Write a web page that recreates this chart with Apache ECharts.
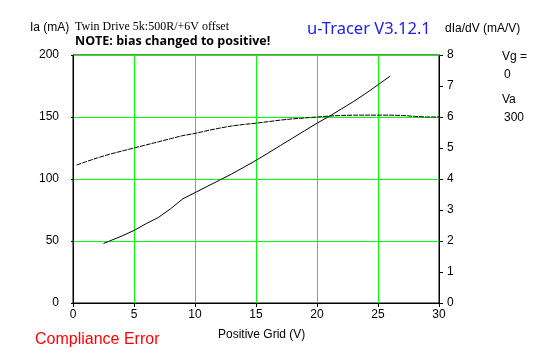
<!DOCTYPE html>
<html><head><meta charset="utf-8">
<script src="https://cdn.jsdelivr.net/npm/echarts@6/dist/echarts.min.js"></script>
<style>html,body{margin:0;padding:0;background:#fff}#c{width:547px;height:357px}</style>
</head><body><div id="c"></div>
<script>
const xTicks = [0,5,10,15,20,25,30];
const iaGrid = [2.5,3,4,5,6,7,8,9,10,11,12,13,14,15,16,17,18,19,20,21,22,23,24,25,26];
const iaVals = [48,50,54,58.5,64,69,76,84,89,94,99,104,109.5,115,121,127,133,139,145,150.5,156.5,162.5,169,176,183];
const gmGrid = [0.3,1,2,3,4,5,6,7,8,9,10,11,12,13,14,15,16,17,18,19,20,21,22,23,24,25,26,27,28,29,30];
const gmVals = [4.45,4.55,4.68,4.8,4.9,5.0,5.1,5.2,5.3,5.4,5.47,5.56,5.64,5.71,5.76,5.8,5.85,5.9,5.94,5.97,6.0,6.03,6.05,6.06,6.06,6.06,6.06,6.05,6.02,6.0,6.0];

const font = 'Liberation Sans, Arial, sans-serif';
const chart = echarts.init(document.getElementById('c'));
const lbl = {color:'#000', fontFamily:font, fontSize:12};
chart.setOption({
  animation:false,
  backgroundColor:'#fff',
  grid:{left:73,right:108,top:55,bottom:54,show:true,borderColor:'#000',borderWidth:1,backgroundColor:'transparent'},
  xAxis:[{type:'value',min:0,max:30,interval:5,
    axisLine:{show:true,lineStyle:{color:'#000',width:1}},
    axisTick:{show:true,length:4,lineStyle:{color:'#000'}},
    axisLabel:Object.assign({margin:6},lbl),
    splitLine:{show:true,lineStyle:{color:'#00ff00',width:1}}}],
  yAxis:[{type:'value',min:0,max:200,interval:50,
    axisLine:{show:true,lineStyle:{color:'#000'}},
    axisTick:{show:true,length:2,lineStyle:{color:'#000'}},
    axisLabel:Object.assign({margin:14},lbl),
    splitLine:{show:true,lineStyle:{color:'#00ff00',width:1}}},
    {type:'value',min:0,max:8,interval:1,position:'right',
    axisLine:{show:true,lineStyle:{color:'#000'}},
    axisTick:{show:true,length:4,lineStyle:{color:'#000'}},
    axisLabel:Object.assign({margin:8},lbl),
    splitLine:{show:false}}],
  series:[
    {type:'line',xAxisIndex:0,yAxisIndex:0,showSymbol:false,symbol:'none',
     data:iaGrid.map((x,i)=>[x,iaVals[i]]),lineStyle:{color:'#000',width:1}},
    {type:'line',xAxisIndex:0,yAxisIndex:1,showSymbol:false,symbol:'none',
     data:gmGrid.map((x,i)=>[x,gmVals[i]]),lineStyle:{color:'#000',width:1,type:[5,1]}}
  ],
  graphic:[
    {type:'text',left:30,top:22,style:{text:'Ia (mA)',font:'12px '+font,fill:'#000'}},
    {type:'text',left:75,top:21,style:{text:'Twin Drive 5k:500R/+6V offset',font:'12px "Liberation Serif", serif',fill:'#000'}},
    {type:'text',left:75,top:35,style:{text:'NOTE: bias changed to positive!',font:'bold 12.5px "Open Sans", "Noto Sans", sans-serif',fill:'#000'}},
    {type:'text',left:307,top:21,style:{text:'u-Tracer V3.12.1',font:'16.5px "Noto Sans", sans-serif',fill:'#2020e0'}},
    {type:'text',left:445,top:23,style:{text:'dIa/dV (mA/V)',font:'12px '+font,fill:'#000'}},
    {type:'text',left:502,top:51,style:{text:'Vg =',font:'12px '+font,fill:'#000'}},
    {type:'text',left:504,top:69,style:{text:'0',font:'12px '+font,fill:'#000'}},
    {type:'text',left:502,top:94,style:{text:'Va',font:'12px '+font,fill:'#000'}},
    {type:'text',left:504,top:112,style:{text:'300',font:'12px '+font,fill:'#000'}},
    {type:'text',left:35,top:332,style:{text:'Compliance Error',font:'16px '+font,fill:'#ff0000'}},
    {type:'text',left:218,top:329,style:{text:'Positive Grid (V)',font:'12px '+font,fill:'#000'}}
  ]
});
</script></body></html>
